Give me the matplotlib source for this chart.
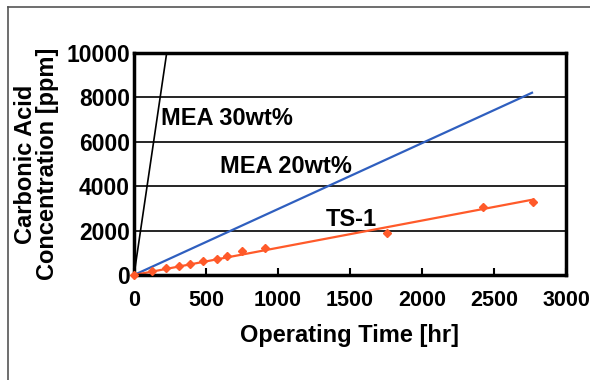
import matplotlib.pyplot as plt
from matplotlib.lines import Line2D

# データ
mea30_t = [0, 227]
mea30_c = [0, 10000]
mea20_t = [0, 2764]
mea20_c = [0, 8210]
ts1_t = [0, 123, 220, 315, 389, 481, 574, 644, 748, 910, 1755, 2421, 2773]
ts1_c = [0, 180, 300, 420, 480, 615, 735, 870, 1095, 1215, 1875, 3080, 3300]
ts1_fit_t = [0, 2773]
ts1_fit_c = [0, 3400]
x_ticks = [0, 500, 1000, 1500, 2000, 2500, 3000]
y_ticks = [0, 2000, 4000, 6000, 8000, 10000]

plt.rcParams['font.family'] = ['Liberation Sans', 'DejaVu Sans']
plt.rcParams['font.weight'] = 'bold'

fig = plt.figure(figsize=(5.9, 3.8), dpi=100)
ax = fig.add_axes([134/590, 1-275/380, 432/590, 222/380])

# 枠線
fig.add_artist(Line2D([8/590, 8/590], [0, 1-7/380], color='#555555', lw=1.2))
fig.add_artist(Line2D([8/590, 1], [1-7/380, 1-7/380], color='#555555', lw=1.2))

ax.plot(mea30_t, mea30_c, color='black', lw=1.2, clip_on=True)
ax.plot(mea20_t, mea20_c, color='#2f5fbf', lw=1.6)
ax.plot(ts1_fit_t, ts1_fit_c, color='#ff5a2a', lw=1.6)
ax.plot(ts1_t, ts1_c, linestyle='none', marker='D', ms=4.5, color='#ff5a2a', clip_on=False, zorder=5)

ax.set_xlim(0, 3000)
ax.set_ylim(0, 10000)
ax.set_xticks(x_ticks)
ax.set_yticks(y_ticks)
ax.yaxis.grid(True, color='black', lw=1.2)
ax.set_axisbelow(True)
ax.tick_params(axis='x', direction='in', length=5, width=1.5, labelsize=15.5, pad=11)
ax.tick_params(axis='y', length=0, labelsize=16.5, pad=3)
for s in ax.spines.values():
    s.set_linewidth(2.5)

ax.text(185, 7050, 'MEA 30wt%', fontsize=17, fontweight='bold', va='center')
ax.text(600, 4900, 'MEA 20wt%', fontsize=17, fontweight='bold', va='center')
ax.text(1330, 2500, 'TS-1', fontsize=17, fontweight='bold', va='center')

ax.set_xlabel('Operating Time [hr]', fontsize=17, fontweight='bold', labelpad=9)
ax.set_ylabel('Carbonic Acid\nConcentration [ppm]', fontsize=17, fontweight='bold', labelpad=5, linespacing=0.95)

fig.savefig('out.png', dpi=100)
